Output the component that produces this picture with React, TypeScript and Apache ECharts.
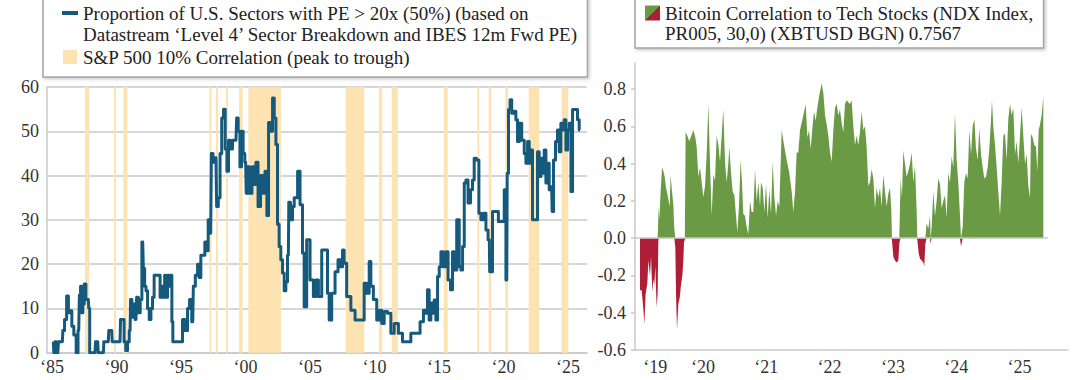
import React, { useEffect, useRef } from "react";
import * as echarts from "echarts";

const FONT = "'Liberation Serif', 'Times New Roman', serif";
const TEXT = "#222222";
const GRID_GRAY = "#c9c9c9";
const PE_COLOR = "#155a7c";
const BAND_COLOR = "#fde3b2";
const GREEN = "#6a9b44";
const RED = "#ae1f37";

const PE_NAME =
  "Proportion of U.S. Sectors with PE > 20x (50%) (based on\nDatastream \u2018Level 4\u2019 Sector Breakdown and IBES 12m Fwd PE)";
const BAND_NAME = "S&P 500 10% Correlation (peak to trough)";
const BTC_NAME =
  "Bitcoin Correlation to Tech Stocks (NDX Index,\nPR005, 30,0) (XBTUSD BGN) 0.7567";

// ---- left panel: proportion of sectors with PE > 20x (decimal years / %) ----
const peDates = [
  1985.1, 1985.18, 1985.25, 1985.45, 1985.55, 1985.8, 1985.88, 1986.06, 1986.2, 1986.34,
  1986.47, 1986.6, 1986.78, 1986.96, 1987.07, 1987.17, 1987.25, 1987.35, 1987.43, 1987.56,
  1987.69, 1987.81, 1987.89, 1987.95, 1988.33, 1988.41, 1988.54, 1988.62, 1988.98, 1989.05,
  1989.36, 1989.44, 1989.63, 1989.7, 1990.27, 1990.35, 1990.53, 1990.64, 1990.79, 1990.92,
  1991.05, 1991.12, 1991.26, 1991.38, 1991.51, 1991.61, 1991.77, 1991.9, 1992.03, 1992.13,
  1992.23, 1992.34, 1992.47, 1992.6, 1992.73, 1992.85, 1992.98, 1993.32, 1993.43, 1993.58,
  1993.68, 1993.78, 1993.89, 1994.02, 1994.15, 1994.25, 1994.33, 1994.4, 1995.05, 1995.18,
  1995.44, 1995.57, 1995.75, 1995.91, 1996.0, 1996.22, 1996.34, 1996.47, 1996.6, 1996.78,
  1996.91, 1997.04, 1997.17, 1997.3, 1997.4, 1997.56, 1997.71, 1997.81, 1997.97, 1998.08,
  1998.23, 1998.36, 1998.49, 1998.62, 1998.74, 1998.93, 1999.05, 1999.26, 1999.36, 1999.5,
  1999.63, 1999.75, 1999.88, 2000.01, 2000.09, 2000.22, 2000.4, 2000.6, 2000.74, 2000.87,
  2001.07, 2001.26, 2001.43, 2001.59, 2001.72, 2001.85, 2002.03, 2002.16, 2002.29, 2002.42,
  2002.54, 2002.67, 2002.8, 2002.93, 2003.06, 2003.19, 2003.32, 2003.39, 2003.58, 2003.71,
  2003.84, 2003.97, 2004.1, 2004.35, 2004.48, 2004.61, 2004.87, 2005.13, 2005.39, 2005.52,
  2005.78, 2006.03, 2006.29, 2006.42, 2006.55, 2006.81, 2007.07, 2007.27, 2007.46, 2007.58,
  2007.71, 2007.97, 2008.36, 2008.62, 2009.13, 2009.26, 2009.52, 2009.65, 2009.78, 2010.04,
  2010.3, 2010.43, 2010.69, 2010.81, 2011.2, 2011.33, 2011.72, 2011.98, 2012.36, 2012.62,
  2013.01, 2013.4, 2013.66, 2013.92, 2014.04, 2014.17, 2014.3, 2014.43, 2014.56, 2014.69,
  2014.82, 2014.95, 2015.08, 2015.21, 2015.47, 2015.6, 2015.8, 2015.98, 2016.11, 2016.24,
  2016.5, 2016.63, 2016.76, 2016.89, 2017.02, 2017.15, 2017.35, 2017.53, 2017.66, 2017.79,
  2018.0, 2018.18, 2018.31, 2018.57, 2018.7, 2018.9, 2018.95, 2019.08, 2019.21, 2019.47,
  2019.73, 2019.99, 2020.12, 2020.25, 2020.32, 2020.45, 2020.56, 2020.71, 2020.89, 2021.02,
  2021.15, 2021.28, 2021.54, 2021.67, 2021.8, 2021.93, 2022.05, 2022.18, 2022.31, 2022.57,
  2022.7, 2022.83, 2022.96, 2023.09, 2023.22, 2023.35, 2023.48, 2023.6, 2023.73, 2023.81,
  2023.94, 2024.12, 2024.25, 2024.38, 2024.51, 2024.64, 2024.77, 2024.9, 2025.03, 2025.16,
  2025.29, 2025.41, 2025.67, 2025.8, 2025.93,
];
const peValues = [
  2.5, 0, 2.5, 0, 2.5, 2.5, 5, 7.5, 12.8, 9,
  9.5, 6, 4, 0, 5, 13, 15, 9, 11, 15.5,
  12, 12, 10, 0, 0, 2.5, 2.5, 0, 0, 2.5,
  2.5, 5, 5, 2.5, 2.5, 7.5, 7.5, 2.5, 0.5, 2.5,
  5, 12, 8, 11, 7.5, 12.5, 9, 12, 25, 19,
  15, 14, 10, 7.5, 10, 12.5, 17.5, 17.5, 12.5, 15,
  12.5, 17.5, 12.5, 17.5, 15, 17.5, 7, 2.5, 2.5, 7.5,
  5, 10, 12, 7, 15, 17.5, 20, 17, 22, 22,
  25, 23, 30, 27, 45, 43, 44, 33, 35, 45,
  53, 55, 46, 41, 48, 46, 48, 48, 53, 50,
  42, 50, 45, 43, 36, 42, 36, 42, 38, 43,
  33, 40, 36, 41, 31, 52, 50, 57.5, 53, 47,
  29, 24, 21, 18, 14, 16, 22, 34, 30, 33,
  35, 35, 41, 33.4, 22.5, 10.4, 25.5, 16.4, 12.7, 16.4,
  12.7, 23.2, 23.2, 13.4, 7.4, 13.4, 18.3, 21, 19.4, 23.2,
  20.2, 12.7, 9.6, 7.4, 7.4, 15.7, 13.4, 20.6, 15, 12,
  7.4, 9.6, 6.6, 9.3, 8.9, 4.4, 6.6, 4.4, 2.5, 2.5,
  4.4, 4.4, 7, 9.6, 8.9, 14.2, 7.4, 11.2, 8.9, 11.9,
  7.4, 17.2, 19.4, 22.8, 19.4, 22.8, 16.4, 14.2, 22.8, 18.7,
  30, 19.4, 18.7, 24, 38.3, 39, 33.8, 36.8, 39, 43.9,
  43.5, 31.5, 30, 31.5, 27.7, 25.5, 18.3, 18.3, 31.9, 31.9,
  29.6, 29.6, 36.8, 16.4, 40.5, 54.9, 57.1, 54.1, 54.5, 52.6,
  47.7, 51.8, 48, 45, 42.8, 47.7, 42.8, 45.8, 30, 30,
  45.4, 39.8, 43.9, 40.5, 45.8, 38.3, 42.8, 36.8, 37.5, 31.9,
  43.5, 47.7, 50.3, 45.4, 51.8, 50.3, 52.6, 45.8, 50.3, 51.8,
  36.4, 54.9, 54.9, 52.6, 50.3,
];

// S&P 500 10% corrections (peak to trough), decimal years
const bandStarts = [
  1987.56, 1989.81, 1990.53, 1997.2, 1997.71, 1998.49, 1999.5, 2000.22, 2007.77, 2010.33,
  2011.33, 2015.36, 2017.97, 2018.85, 2020.14, 2021.95, 2024.5,
];
const bandEnds = [
  1987.89, 1989.96, 1990.84, 1997.35, 1997.87, 1998.64, 1999.78, 2002.75, 2009.21, 2010.6,
  2011.8, 2015.67, 2018.12, 2019.05, 2020.35, 2022.78, 2025.02,
];

const leftYearTicks = [1985, 1990, 1995, 2000, 2005, 2010, 2015, 2020, 2025];

// ---- right panel: bitcoin correlation to tech stocks ----
const btcDates = [
  2019.005, 2019.031, 2019.058, 2019.073, 2019.094, 2019.121, 2019.137, 2019.163, 2019.179, 2019.2,
  2019.216, 2019.231, 2019.247, 2019.268, 2019.284, 2019.294, 2019.3, 2019.31, 2019.331, 2019.353,
  2019.374, 2019.395, 2019.416, 2019.437, 2019.458, 2019.474, 2019.489, 2019.51, 2019.532, 2019.547,
  2019.563, 2019.574, 2019.59, 2019.611, 2019.632, 2019.653, 2019.674, 2019.69, 2019.7, 2019.713,
  2019.726, 2019.753, 2019.784, 2019.816, 2019.848, 2019.879, 2019.9, 2019.927, 2019.953, 2019.979,
  2020.006, 2020.032, 2020.058, 2020.085, 2020.111, 2020.137, 2020.164, 2020.19, 2020.216, 2020.243,
  2020.269, 2020.295, 2020.321, 2020.348, 2020.374, 2020.4, 2020.416, 2020.443, 2020.469, 2020.495,
  2020.522, 2020.543, 2020.569, 2020.595, 2020.616, 2020.637, 2020.664, 2020.69, 2020.716, 2020.743,
  2020.769, 2020.795, 2020.822, 2020.848, 2020.874, 2020.901, 2020.916, 2020.943, 2020.969, 2020.996,
  2021.022, 2021.048, 2021.075, 2021.101, 2021.127, 2021.154, 2021.18, 2021.206, 2021.243, 2021.28,
  2021.322, 2021.364, 2021.401, 2021.427, 2021.454, 2021.48, 2021.506, 2021.533, 2021.559, 2021.585,
  2021.622, 2021.649, 2021.675, 2021.701, 2021.733, 2021.754, 2021.78, 2021.806, 2021.838, 2021.875,
  2021.901, 2021.928, 2021.954, 2021.98, 2022.007, 2022.033, 2022.059, 2022.086, 2022.112, 2022.138,
  2022.164, 2022.19, 2022.217, 2022.243, 2022.269, 2022.296, 2022.322, 2022.348, 2022.375, 2022.401,
  2022.427, 2022.454, 2022.48, 2022.506, 2022.533, 2022.559, 2022.585, 2022.612, 2022.638, 2022.664,
  2022.691, 2022.717, 2022.743, 2022.77, 2022.796, 2022.822, 2022.849, 2022.875, 2022.901, 2022.928,
  2022.954, 2022.975, 2022.985, 2023.007, 2023.033, 2023.059, 2023.086, 2023.101, 2023.112, 2023.122,
  2023.143, 2023.165, 2023.191, 2023.217, 2023.244, 2023.27, 2023.296, 2023.323, 2023.349, 2023.375,
  2023.386, 2023.407, 2023.428, 2023.454, 2023.481, 2023.496, 2023.512, 2023.533, 2023.56, 2023.586,
  2023.596, 2023.612, 2023.638, 2023.665, 2023.691, 2023.717, 2023.744, 2023.77, 2023.796, 2023.823,
  2023.849, 2023.875, 2023.902, 2023.928, 2023.954, 2023.981, 2024.007, 2024.033, 2024.06, 2024.076,
  2024.102, 2024.128, 2024.155, 2024.181, 2024.207, 2024.234, 2024.26, 2024.286, 2024.313, 2024.339,
  2024.365, 2024.392, 2024.418, 2024.444, 2024.471, 2024.497, 2024.523, 2024.544, 2024.565, 2024.586,
  2024.613, 2024.639, 2024.665, 2024.692, 2024.718, 2024.744, 2024.771, 2024.797, 2024.823, 2024.85,
  2024.876, 2024.902, 2024.929, 2024.955, 2024.981, 2025.008, 2025.034, 2025.06, 2025.087, 2025.113,
  2025.139, 2025.166, 2025.181, 2025.208, 2025.234, 2025.26, 2025.281, 2025.303, 2025.324, 2025.35,
  2025.376,
];
const btcValues = [
  -0.28, -0.28, -0.38, -0.46, -0.3, -0.24, -0.12, -0.2, -0.1, -0.29,
  -0.22, -0.25, -0.15, -0.37, -0.3, -0.02, 0.17, 0.1, 0.25, 0.38,
  0.36, 0.33, 0.27, 0.24, 0.2, 0.17, 0.34, 0.25, 0.18, 0.05,
  -0.05, -0.3, -0.49, -0.35, -0.32, -0.25, -0.2, -0.12, -0.02, -0.01,
  0.57, 0.55, 0.52, 0.55, 0.58, 0.54, 0.49, 0.33, 0.38, 0.3,
  0.22, 0.28, 0.45, 0.72, 0.4, 0.12, 0.34, 0.31, 0.55, 0.5,
  0.41, 0.55, 0.69, 0.41, 0.3, 0.4, 0.49, 0.35, 0.25, 0.23,
  0.12, 0.03, 0.18, 0.42, 0.3, 0.13, 0.12, 0.06, 0.02, 0.2,
  0.14, 0.14, 0.37, 0.2, 0.3, 0.17, 0.3, 0.27, 0.14, 0.29,
  0.11, 0.26, 0.13, 0.41, 0.22, 0.12, 0.2, 0.17, 0.58, 0.5,
  0.42, 0.35, 0.25, 0.14, 0.25, 0.46, 0.46, 0.58, 0.62, 0.66,
  0.72, 0.54, 0.58, 0.48, 0.61, 0.68, 0.63, 0.7, 0.77, 0.83,
  0.78, 0.66, 0.61, 0.55, 0.46, 0.41, 0.58, 0.7, 0.72, 0.66,
  0.69, 0.62, 0.57, 0.72, 0.74, 0.73, 0.72, 0.74, 0.6, 0.5,
  0.55, 0.5, 0.57, 0.68, 0.58, 0.6, 0.49, 0.28, 0.3, 0.37,
  0.32, 0.16, 0.27, 0.22, 0.27, 0.17, 0.34, 0.25, 0.17, 0.24,
  0.27, 0.15, -0.01, -0.1, -0.12, -0.13, -0.12, -0.03, -0.01, 0.32,
  0.22, 0.47, 0.4, 0.33, 0.36, 0.4, 0.46, 0.3, 0.39, 0.15,
  -0.01, -0.08, -0.11, -0.12, -0.13, -0.15, -0.03, 0.08, 0.05, 0.12,
  -0.03, 0.06, 0.25, 0.12, 0.2, 0.32, 0.29, 0.16, 0.2, 0.23,
  0.11, 0.35, 0.3, 0.44, 0.38, 0.67, 0.42, 0.3, 0.12, -0.045,
  0.06, 0.3, 0.35, 0.32, 0.58, 0.45, 0.6, 0.64, 0.48, 0.42,
  0.59, 0.45, 0.38, 0.32, 0.33, 0.38, 0.48, 0.6, 0.74, 0.6,
  0.5, 0.38, 0.25, 0.12, 0.3, 0.55, 0.56, 0.42, 0.64, 0.72,
  0.66, 0.7, 0.45, 0.52, 0.4, 0.55, 0.7, 0.55, 0.4, 0.45,
  0.28, 0.22, 0.56, 0.54, 0.5, 0.49, 0.36, 0.58, 0.61, 0.66,
  0.76,
];

const rightYearTicks = [2019.245, 2020, 2021, 2022, 2023, 2024, 2025];
const rightValueTicks = [-0.6, -0.4, -0.2, 0, 0.2, 0.4, 0.6, 0.8];

const LEFT_X_MIN = 1984.61;
const LEFT_X_MAX = 2026.47;
const RIGHT_X_MIN = 2018.926;
const RIGHT_X_MAX = 2025.766;
const RIGHT_Y_MIN = -0.6;
const RIGHT_Y_MAX = 0.94;

const yearLabel = (v: number) => "\u2018" + String(Math.round(v) % 100).padStart(2, "0");

// two-line legend entries: a leading blank line keeps the icon level with the first line
const legendText = (name: string) => (name.indexOf("\n") >= 0 ? "\n" + name : name);

function buildOption() {
  const peData = peDates.map((d, i) => [d, peValues[i]]);
  const posData = btcDates.map((d, i) => [d, Math.max(btcValues[i], 0)]);
  const negData = btcDates.map((d, i) => [d, Math.min(btcValues[i], 0)]);
  const bandAreas = bandStarts.map((s, i) => [{ xAxis: s }, { xAxis: bandEnds[i] }]);
  const lastBtc = btcDates[btcDates.length - 1];

  const legendBox = {
    orient: "vertical" as const,
    backgroundColor: "#ffffff",
    borderColor: "#a3a3a3",
    borderWidth: 1.5,
    shadowColor: "rgba(0,0,0,0.22)",
    shadowBlur: 3,
    shadowOffsetX: 1.5,
    shadowOffsetY: 1.5,
    selectedMode: false,
    formatter: legendText,
    textStyle: { fontFamily: FONT, fontSize: 19, color: TEXT },
  };

  const axisLabelBase = { fontFamily: FONT, fontSize: 18, color: "#333333" };

  return {
    animation: false,
    backgroundColor: "#ffffff",
    textStyle: { fontFamily: FONT },
    legend: [
      {
        ...legendBox,
        left: 43,
        top: -23.5,
        padding: [5, 9, 9.5, 19],
        itemWidth: 16,
        itemHeight: 14,
        itemGap: 2,
        textStyle: { ...legendBox.textStyle, lineHeight: 21 },
        data: [
          { name: PE_NAME, icon: "path://M0 0 L16 0 L16 4 L0 4 Z" },
          { name: BAND_NAME, icon: "path://M0 0 L14 0 L14 14 L0 14 Z" },
        ],
      },
      {
        ...legendBox,
        left: 635,
        top: -22,
        padding: [5, 10, 5, 10],
        itemWidth: 15,
        itemHeight: 15,
        textStyle: { ...legendBox.textStyle, lineHeight: 20 },
        data: [
          {
            name: BTC_NAME,
            icon: "path://M0 0 L15 0 L15 15 L0 15 Z",
            itemStyle: {
              color: new echarts.graphic.LinearGradient(0, 0, 1, 1, [
                { offset: 0, color: GREEN },
                { offset: 0.5, color: GREEN },
                { offset: 0.5, color: RED },
                { offset: 1, color: RED },
              ]),
            },
          },
        ],
      },
    ],
    grid: [
      { left: 47, top: 87, width: 540, height: 265.7, containLabel: false },
      { left: 635, top: 63, width: 433, height: 287, containLabel: false },
    ],
    xAxis: [
      {
        type: "value",
        gridIndex: 0,
        min: LEFT_X_MIN,
        max: LEFT_X_MAX,
        axisLine: { show: true, lineStyle: { color: GRID_GRAY, width: 1.5 } },
        axisTick: { show: false },
        splitLine: { show: false },
        axisLabel: {
          ...axisLabelBase,
          margin: 5,
          customValues: leftYearTicks,
          formatter: yearLabel,
        },
      },
      {
        type: "value",
        gridIndex: 1,
        min: RIGHT_X_MIN,
        max: RIGHT_X_MAX,
        axisLine: { show: true, onZero: false, lineStyle: { color: GRID_GRAY, width: 1.5 } },
        axisTick: { show: false },
        splitLine: { show: false },
        axisLabel: {
          ...axisLabelBase,
          margin: 8,
          customValues: rightYearTicks,
          formatter: yearLabel,
        },
      },
    ],
    yAxis: [
      {
        type: "value",
        gridIndex: 0,
        min: 0,
        max: 60,
        interval: 10,
        axisLine: { show: true, lineStyle: { color: GRID_GRAY, width: 1.5 } },
        axisTick: { show: false },
        splitLine: { show: true, lineStyle: { color: GRID_GRAY, width: 1.5 } },
        axisLabel: { ...axisLabelBase, margin: 8 },
      },
      {
        type: "value",
        gridIndex: 1,
        min: RIGHT_Y_MIN,
        max: RIGHT_Y_MAX,
        axisLine: { show: true, lineStyle: { color: GRID_GRAY, width: 1.5 } },
        axisTick: {
          show: true,
          length: 4,
          lineStyle: { color: GRID_GRAY, width: 1.5 },
          customValues: rightValueTicks,
        },
        splitLine: { show: false },
        axisLabel: {
          ...axisLabelBase,
          margin: 9,
          customValues: rightValueTicks,
          formatter: (v: number) => v.toFixed(1),
        },
      },
    ],
    series: [
      {
        name: BAND_NAME,
        type: "line",
        xAxisIndex: 0,
        yAxisIndex: 0,
        data: [],
        color: BAND_COLOR,
        z: 1,
        silent: true,
        markArea: {
          silent: true,
          itemStyle: { color: BAND_COLOR, opacity: 1 },
          data: bandAreas,
        },
      },
      {
        name: PE_NAME,
        type: "line",
        xAxisIndex: 0,
        yAxisIndex: 0,
        data: peData,
        step: "middle",
        symbol: "none",
        color: PE_COLOR,
        lineStyle: { color: PE_COLOR, width: 3, join: "round" },
        z: 3,
        silent: true,
      },
      {
        name: BTC_NAME,
        type: "line",
        xAxisIndex: 1,
        yAxisIndex: 1,
        data: posData,
        symbol: "none",
        color: GREEN,
        lineStyle: { width: 0, opacity: 0 },
        areaStyle: { color: GREEN, opacity: 1, origin: 0 },
        z: 2,
        silent: true,
        markLine: {
          silent: true,
          symbol: ["none", "none"],
          label: { show: false },
          lineStyle: { color: GRID_GRAY, width: 1.5, type: "solid" },
          data: [[{ coord: [RIGHT_X_MIN, 0] }, { coord: [lastBtc + 0.07, 0] }]],
        },
      },
      {
        name: BTC_NAME,
        type: "line",
        xAxisIndex: 1,
        yAxisIndex: 1,
        data: negData,
        symbol: "none",
        color: RED,
        lineStyle: { width: 0, opacity: 0 },
        areaStyle: { color: RED, opacity: 1, origin: 0 },
        z: 2,
        silent: true,
      },
    ],
  };
}

export default function App() {
  const ref = useRef<HTMLDivElement>(null);
  useEffect(() => {
    if (!ref.current) return;
    const chart = echarts.init(ref.current, null, { renderer: "svg", width: 1080, height: 380 });
    chart.setOption(buildOption() as any);
    return () => chart.dispose();
  }, []);
  return (
    <div
      ref={ref}
      style={{ position: "absolute", left: 0, top: 0, width: 1080, height: 380, background: "#ffffff" }}
    />
  );
}
